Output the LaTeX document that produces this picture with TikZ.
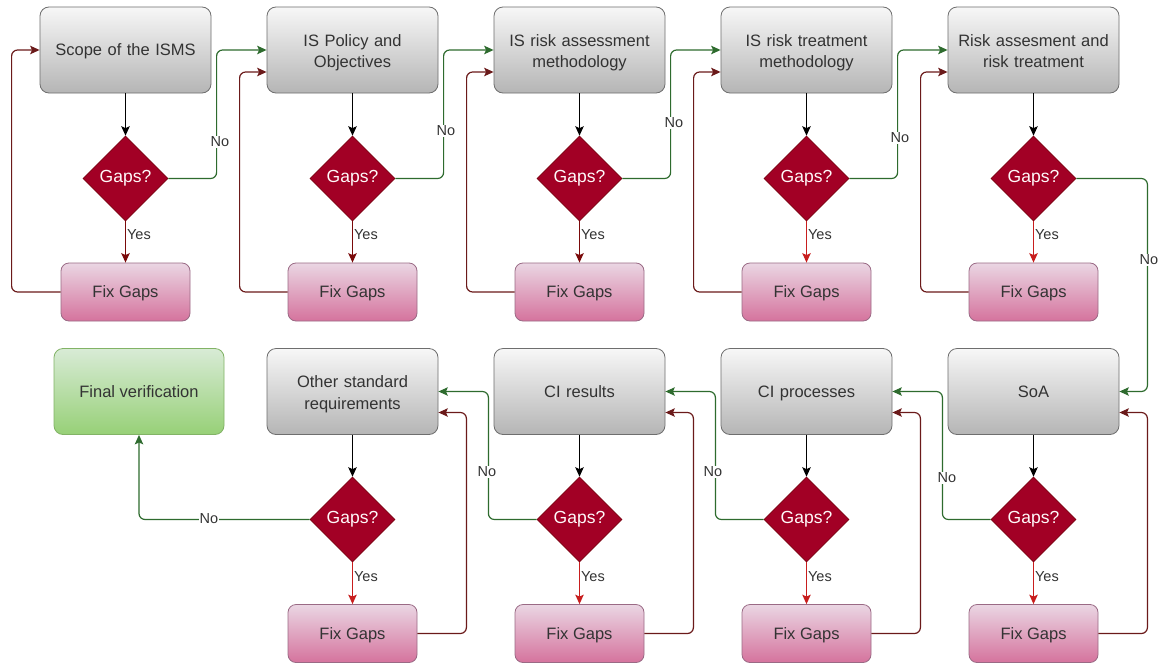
\documentclass[tikz,border=0pt]{standalone}
\usepackage{fontspec}
\setmainfont{Liberation Sans}
\usetikzlibrary{shapes.geometric,arrows.meta,calc}
\definecolor{grayT}{HTML}{F7F7F7}
\definecolor{grayB}{HTML}{B5B5B5}
\definecolor{grayD}{HTML}{6E6E6E}
\definecolor{pinkT}{HTML}{EAD6E3}
\definecolor{pinkB}{HTML}{D5739D}
\definecolor{pinkD}{HTML}{9A6A85}
\definecolor{greenT}{HTML}{D8EBD6}
\definecolor{greenB}{HTML}{97D077}
\definecolor{greenD}{HTML}{82B366}
\definecolor{crim}{HTML}{A20025}
\definecolor{crimD}{HTML}{7A0010}
\definecolor{txt}{HTML}{333333}
\definecolor{noG}{HTML}{2E6B2E}
\definecolor{loopR}{HTML}{6B1A1A}
\definecolor{yesD}{HTML}{7A0A0A}
\definecolor{yesR}{HTML}{C81E1E}
\newcommand\bxf{\fontsize{16.5}{21.5}\selectfont}
\newcommand\gpf{\fontsize{17.5}{20}\selectfont}
\newcommand\lbf{\fontsize{14.5}{16}\selectfont}
\tikzset{
  proc/.style={draw=grayD, line width=0.8pt, rounded corners=9pt, top color=grayT, bottom color=grayB,
    minimum width=171pt, minimum height=86pt, text width=165pt, align=center, font=\bxf, text=txt, inner sep=0pt, text depth=-1pt},
  twoline/.style={text depth=19.5pt},
  fixbox/.style={draw=pinkD, line width=0.8pt, rounded corners=8pt, top color=pinkT, bottom color=pinkB,
    minimum width=129pt, minimum height=58pt, align=center, font=\bxf, text=txt, inner sep=0pt, text depth=0pt},
  finalbox/.style={draw=greenD, line width=0.8pt, rounded corners=9pt, top color=greenT, bottom color=greenB,
    minimum width=170pt, minimum height=86pt, align=center, font=\bxf, text=txt, inner sep=0pt, text depth=-1pt},
  dec/.style={diamond, draw=crimD, line width=0.6pt, fill=crim, minimum width=85pt, minimum height=85pt,
    inner sep=0pt, text=white!92!pink, font=\gpf},
  conn/.style={line width=1.2pt, rounded corners=6pt, -{Stealth[length=9.5pt,width=8.5pt,inset=2pt]}},
  nolbl/.style={fill=white, inner sep=1pt, font=\lbf, text=txt},
  yeslbl/.style={inner sep=1pt, font=\lbf, text=txt, anchor=west},
}
\begin{document}
\begin{tikzpicture}[x=1pt,y=-1pt]
\fill[white] (0,0) rectangle (1164,664);
\useasboundingbox (0,0) rectangle (1164,664);

% top row
\node[proc] (B1) at (125.5,50) {Scope of the ISMS};
\node[proc,twoline] (B2) at (352.5,50) {IS Policy and\\Objectives};
\node[proc,twoline] (B3) at (579.5,50) {IS risk assessment\\methodology};
\node[proc,twoline] (B4) at (806.5,50) {IS risk treatment\\methodology};
\node[proc,twoline] (B5) at (1033.5,50) {Risk assesment and\\risk treatment};
\foreach \i/\x in {1/125.5,2/352.5,3/579.5,4/806.5,5/1033.5}{
  \node[dec] (D\i) at (\x,178.5) {Gaps?};
  \node[fixbox] (F\i) at (\x,292) {Fix Gaps};
}
% bottom row
\node[proc] (B6) at (1033.5,391.5) {SoA};
\node[proc] (B7) at (806.5,391.5) {CI processes};
\node[proc] (B8) at (579.5,391.5) {CI results};
\node[proc,twoline] (B9) at (352.5,391.5) {Other standard\\requirements};
\node[finalbox] (FV) at (139,391.5) {Final verification};
\foreach \i/\x in {6/1033.5,7/806.5,8/579.5,9/352.5}{
  \node[dec] (D\i) at (\x,519.5) {Gaps?};
  \node[fixbox] (F\i) at (\x,633.5) {Fix Gaps};
}

% box -> decision
\foreach \i in {1,...,9}{
  \draw[conn,black] (B\i.south) -- (D\i.north);
}
% Yes arrows
\foreach \i in {1,2,3}{
  \draw[conn,yesD] (D\i.south) -- node[yeslbl,pos=0.33]{Yes} (F\i.north);
}
\foreach \i in {4,...,9}{
  \draw[conn,yesR] (D\i.south) -- node[yeslbl,pos=0.33]{Yes} (F\i.north);
}
% loops back (top)
\draw[conn,loopR] (F1.west) -| ([shift={(-28,0)}]B1.west) -- (B1.west);
\foreach \i in {2,...,5}{
  \draw[conn,loopR] (F\i.west) -| ([shift={(-27,22)}]B\i.west) -- ([shift={(0,22)}]B\i.west);
}
% loops back (bottom)
\foreach \i in {6,...,9}{
  \draw[conn,loopR] (F\i.east) -| ([shift={(28,21)}]B\i.east) -- ([shift={(0,21)}]B\i.east);
}
% No arrows (top)
\foreach \i/\j in {1/2,2/3,3/4,4/5}{
  \draw[conn,noG] (D\i.east) -| ([shift={(-50,0)}]B\j.west) -- (B\j.west);
}
\draw[conn,noG] (D5.east) -| ([shift={(28,0)}]B6.east) -- (B6.east);
% No arrows (bottom)
\foreach \i/\j in {6/7,7/8,8/9}{
  \draw[conn,noG] (D\i.west) -| ([shift={(50,0)}]B\j.east) -- (B\j.east);
}
\draw[conn,noG] (D9.west) -| (FV.south);

% No labels
\node[nolbl] (n1) at (220,142) {No};
\node[nolbl] (n2) at (446,131) {No};
\node[nolbl] (n3) at (674,123) {No};
\node[nolbl] (n4) at (900,138) {No};
\node[nolbl] (n5) at (1149,260) {No};
\node[nolbl] (n6) at (947,478) {No};
\node[nolbl] (n7) at (713,472) {No};
\node[nolbl] (n8) at (487,472) {No};
\node[nolbl] (n9) at (209,519) {No};
\end{tikzpicture}
\end{document}
